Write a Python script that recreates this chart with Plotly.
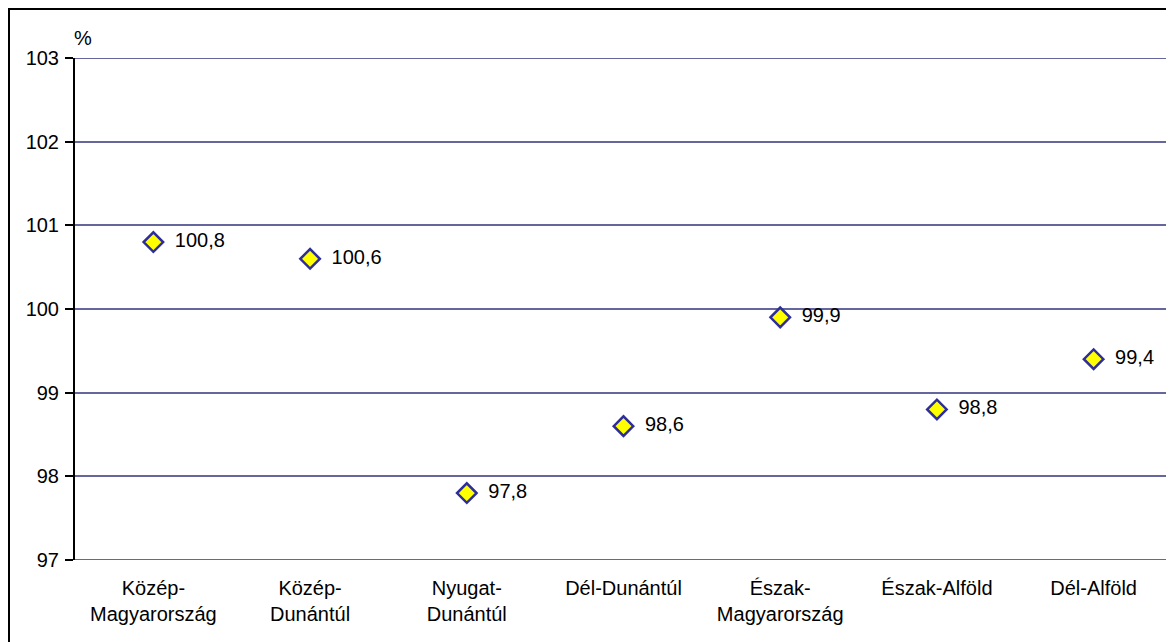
import plotly.graph_objects as go

categories = ["Közép-<br>Magyarország", "Közép-<br>Dunántúl", "Nyugat-<br>Dunántúl",
              "Dél-Dunántúl", "Észak-<br>Magyarország", "Észak-Alföld", "Dél-Alföld"]
values = [100.8, 100.6, 97.8, 98.6, 99.9, 98.8, 99.4]
y_ticks = [97, 98, 99, 100, 101, 102, 103]

labels = ["  " + f"{v:.1f}".replace(".", ",") for v in values]

GRID = "#66669e"
# page has an 8px body margin, so the figure is 8px smaller than the window
W, H = 1166, 634
ML, MR, MT, MB = 67, 2, 50, 82
PW = W - ML - MR
PH = H - MT - MB
FONT = "Liberation Sans, Arial"
FS = 20

fig = go.Figure()
fig.add_trace(go.Scatter(
    x=list(range(len(categories))), y=values, mode="markers+text",
    text=labels, textposition="middle right",
    textfont=dict(family=FONT, size=FS, color="black"),
    marker=dict(symbol="diamond", size=15, color="#ffff00",
                line=dict(color="#2e2e99", width=2.5)),
    showlegend=False, cliponaxis=False,
))

fig.update_layout(
    width=W, height=H,
    margin=dict(l=ML, r=MR, t=MT, b=MB),
    paper_bgcolor="white", plot_bgcolor="white",
    font=dict(family=FONT, size=FS, color="black"),
    xaxis=dict(range=[-0.5, 6.5], tickvals=list(range(len(categories))),
               ticktext=categories, showgrid=False, zeroline=False,
               showline=False, ticks="", ticklabelstandoff=14),
    yaxis=dict(range=[97, 103], tickvals=y_ticks, showgrid=True,
               gridcolor=GRID, gridwidth=2, zeroline=False,
               showline=True, linecolor="black", linewidth=2,
               ticks="outside", ticklen=8, tickcolor="black", tickwidth=2,
               ticklabelstandoff=2),
    annotations=[dict(text="%", xref="paper", yref="paper",
                      x=(83 - 8 - ML) / PW, y=(H - MB - (38 - 8)) / PH,
                      showarrow=False, font=dict(size=FS),
                      xanchor="center", yanchor="middle")],
    shapes=[
        dict(type="line", xref="paper", yref="y", x0=0, x1=1, y0=100, y1=100,
             line=dict(color="black", width=2), layer="below"),
        dict(type="line", xref="paper", yref="y", x0=0, x1=1, y0=97, y1=97,
             line=dict(color=GRID, width=2), layer="below"),
        dict(type="line", xref="paper", yref="y", x0=0, x1=1, y0=103, y1=103,
             line=dict(color=GRID, width=2), layer="below"),
        dict(type="line", xref="paper", yref="paper", x0=1, x1=1, y0=0, y1=1,
             line=dict(color=GRID, width=2), layer="below"),
        dict(type="rect", xref="paper", yref="paper",
             x0=(1 - ML) / PW, x1=(W + 10 - ML) / PW,
             y0=(H - MB - (H + 10)) / PH, y1=(H - MB - 1) / PH,
             line=dict(color="black", width=2), fillcolor="rgba(0,0,0,0)",
             layer="above"),
    ],
)

fig.write_html("out.html")
